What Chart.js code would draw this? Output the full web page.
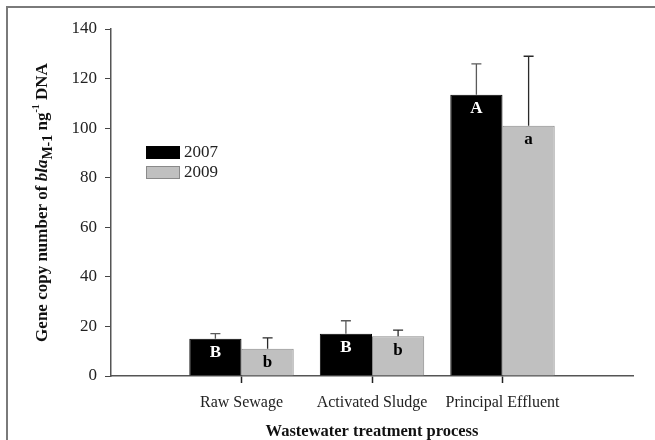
<!DOCTYPE html>
<html>
<head>
<meta charset="utf-8">
<script src="https://cdn.jsdelivr.net/npm/chart.js@4.4.1/dist/chart.umd.min.js"></script>
<style>
  html, body { margin: 0; padding: 0; background: #fff; }
  #wrap { width: 655px; height: 440px; position: relative; }
</style>
</head>
<body>
<div id="wrap"><canvas id="chart" width="655" height="440"></canvas></div>
<script>
// Data
const categories = ['', 'Raw Sewage', 'Activated Sludge', 'Principal Effluent', ''];
const values2007 = [null, 15, 17, 113.5, null];
const values2009 = [null, 11, 16, 101, null];
const errors2007 = [null, 2.1, 5.3, 12.4, null];
const errors2009 = [null, 4.4, 2.5, 28, null];
const letters2007 = ['', 'B', 'B', 'A', ''];
const letters2009 = ['', 'b', 'b', 'a', ''];
const yTicks = [0, 20, 40, 60, 80, 100, 120, 140];
const seriesNames = ['2007', '2009'];

const serif = '"Liberation Serif", "DejaVu Serif", serif';

// Frame lines (top and left only, like the scanned figure)
const framePlugin = {
    id: 'frame',
    beforeDraw(chart) {
        const ctx = chart.ctx;
        ctx.save();
        ctx.strokeStyle = '#7a7a7a';
        ctx.lineWidth = 2;
        ctx.beginPath();
        ctx.moveTo(7, 440);
        ctx.lineTo(7, 7);
        ctx.lineTo(655, 7);
        ctx.stroke();
        ctx.restore();
    }
};

// Upward error bars and significance letters
const errorPlugin = {
    id: 'errorBars',
    afterDatasetsDraw(chart) {
        const ctx = chart.ctx;
        const y = chart.scales.y;
        const errs = [errors2007, errors2009];
        const letters = [letters2007, letters2009];
        const errColors = ['#5a5a5a', '#2a2a2a'];
        const letterColors = ['#ffffff', '#000000'];
        ctx.save();
        chart.data.datasets.forEach((ds, di) => {
            const meta = chart.getDatasetMeta(di);
            meta.data.forEach((bar, i) => {
                const v = ds.data[i];
                if (v === null) return;
                const top = y.getPixelForValue(v);
                const errTop = y.getPixelForValue(v + errs[di][i]);
                ctx.strokeStyle = errColors[di];
                ctx.lineWidth = 1.3;
                ctx.beginPath();
                ctx.moveTo(bar.x, top);
                ctx.lineTo(bar.x, errTop);
                ctx.moveTo(bar.x - 5, errTop);
                ctx.lineTo(bar.x + 5, errTop);
                ctx.stroke();

                ctx.fillStyle = letterColors[di];
                ctx.font = 'bold 17px ' + serif;
                ctx.textAlign = 'center';
                ctx.textBaseline = 'middle';
                ctx.fillText(letters[di][i], bar.x, top + 14);
            });
        });
        ctx.restore();
    }
};

// Legend boxes drawn inside the plot
const legendPlugin = {
    id: 'boxLegend',
    afterDraw(chart) {
        const ctx = chart.ctx;
        ctx.save();
        chart.data.datasets.forEach((ds, di) => {
            const top = 146 + di * 20;
            ctx.fillStyle = ds.backgroundColor;
            ctx.fillRect(146, top, 34, 13);
            ctx.strokeStyle = ds.borderColor;
            ctx.lineWidth = 1;
            ctx.strokeRect(146.5, top + 0.5, 33, 12);
            ctx.fillStyle = '#222';
            ctx.font = '17px ' + serif;
            ctx.textAlign = 'left';
            ctx.textBaseline = 'middle';
            ctx.fillText(ds.label, 184, top + 7);
        });
        ctx.restore();
    }
};

// Rotated y-axis title with italic, subscript and superscript parts
const yTitlePlugin = {
    id: 'yTitle',
    afterDraw(chart) {
        const ctx = chart.ctx;
        const area = chart.chartArea;
        const parts = [
            { t: 'Gene copy number of ', f: 'bold 17px ' + serif, dy: 0 },
            { t: 'bla', f: 'italic bold 17px ' + serif, dy: 0 },
            { t: 'M-1', f: 'bold 14px ' + serif, dy: 5 },
            { t: ' ng', f: 'bold 17px ' + serif, dy: 0 },
            { t: '-1', f: 'bold 10px ' + serif, dy: -7 },
            { t: ' DNA', f: 'bold 17px ' + serif, dy: 0 }
        ];
        ctx.save();
        let total = 0;
        parts.forEach(p => { ctx.font = p.f; p.w = ctx.measureText(p.t).width; total += p.w; });
        ctx.translate(43, (area.top + area.bottom) / 2);
        ctx.rotate(-Math.PI / 2);
        ctx.fillStyle = '#111';
        ctx.textAlign = 'left';
        ctx.textBaseline = 'middle';
        let x = -total / 2;
        parts.forEach(p => {
            ctx.font = p.f;
            ctx.fillText(p.t, x, p.dy);
            x += p.w;
        });
        ctx.restore();
    }
};

const ctx = document.getElementById('chart').getContext('2d');
new Chart(ctx, {
    type: 'bar',
    data: {
        labels: categories,
        datasets: [
            {
                label: seriesNames[0],
                data: values2007,
                backgroundColor: '#000000',
                borderColor: '#000000',
                borderWidth: 1
            },
            {
                label: seriesNames[1],
                data: values2009,
                backgroundColor: '#c0c0c0',
                borderColor: '#8a8a8a',
                borderWidth: 1
            }
        ]
    },
    options: {
        responsive: false,
        animation: false,
        devicePixelRatio: 1,
        layout: { padding: { top: 29, right: 22, left: 0, bottom: 0 } },
        datasets: { bar: { categoryPercentage: 0.8, barPercentage: 1.0 } },
        plugins: {
            legend: { display: false },
            tooltip: { enabled: false }
        },
        scales: {
            x: {
                offset: false,
                grid: {
                    offset: false,
                    drawOnChartArea: false,
                    drawTicks: true,
                    tickLength: 7,
                    tickWidth: 1.5,
                    tickColor: c => (c.index === 0 || c.index === categories.length - 1) ? 'rgba(0,0,0,0)' : '#222'
                },
                border: { color: '#555', width: 1.5 },
                ticks: {
                    autoSkip: false,
                    maxRotation: 0,
                    padding: 10,
                    color: '#222',
                    font: { family: serif, size: 16 }
                },
                title: {
                    display: true,
                    text: 'Wastewater treatment process',
                    color: '#111',
                    font: { family: serif, size: 16.5, weight: 'bold', lineHeight: 1 },
                    padding: { top: 0, bottom: 0 }
                },
                afterFit(scale) { scale.height = 64; }
            },
            y: {
                min: 0,
                max: 140,
                afterBuildTicks(scale) { scale.ticks = yTicks.map(v => ({ value: v })); },
                grid: {
                    drawOnChartArea: false,
                    drawTicks: true,
                    tickLength: 6,
                    tickColor: '#444'
                },
                border: { color: '#555', width: 1.5 },
                ticks: {
                    padding: 8,
                    color: '#222',
                    font: { family: serif, size: 17 }
                },
                afterFit(scale) { scale.width = 111; }
            }
        }
    },
    plugins: [framePlugin, errorPlugin, legendPlugin, yTitlePlugin]
});
</script>
</body>
</html>
